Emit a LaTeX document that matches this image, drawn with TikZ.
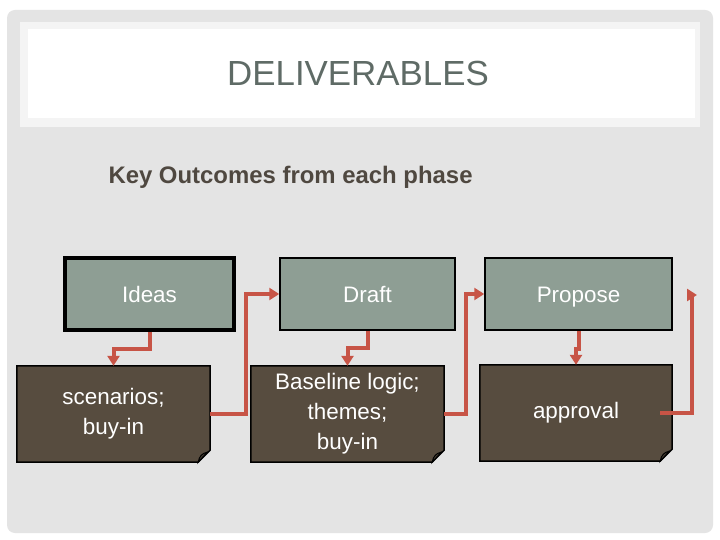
\documentclass[tikz,border=0pt]{standalone}
\usepackage{fontspec}
\setmainfont{Liberation Sans}
\usetikzlibrary{arrows.meta, calc}

\definecolor{slidegrey}{HTML}{E4E4E4}
\definecolor{bandgrey}{HTML}{F4F4F4}
\definecolor{titlegrey}{HTML}{5F6B66}
\definecolor{subbrown}{HTML}{4F4840}
\definecolor{phasegreen}{HTML}{8E9E94}
\definecolor{outbrown}{HTML}{574C3F}
\definecolor{linkred}{HTML}{C75446}

\pgfdeclarelayer{background}
\pgfsetlayers{background,main}

\begin{document}
\begin{tikzpicture}[
    x=1bp, y=-1bp,
    >=Triangle,
    phase/.style={draw=black, line width=1.5bp, fill=phasegreen, text=white,
        inner sep=0pt, text height=17bp, text depth=0pt,
        font=\fontsize{22.5}{30}\selectfont},
    outcome/.style={inner sep=0pt, text=white,
        font=\fontsize{22.5}{30}\selectfont, align=center},
    link/.style={linkred, line width=4bp},
    arrowlink/.style={link, -{Triangle[length=10bp, width=12bp]}},
]

% =============================================================================
% Slide background and title
% =============================================================================
\useasboundingbox (0,0) rectangle (720,540);
\begin{pgfonlayer}{background}
    \fill[white] (0,0) rectangle (720,540);
    \fill[slidegrey, rounded corners=8bp] (7,10) rectangle (713,533);
    \fill[bandgrey] (20,22) rectangle (700,127);
    \fill[white] (28,29) rectangle (695,118);
\end{pgfonlayer}

\node[text=titlegrey, font=\fontsize{35}{40}\selectfont] (title) at (358,73) {DELIVERABLES};
\node[anchor=west, text=subbrown, font=\bfseries\fontsize{24}{28}\selectfont]
    (sub) at (105,177) {Key Outcomes from each phase};

% =============================================================================
% Phases (top row)
% =============================================================================
\node[phase, line width=3.5bp, minimum width=169bp, minimum height=72bp]
    (ideas) at (149.5,294) {Ideas};
\node[phase, minimum width=175bp, minimum height=72bp]
    (draft) at (367.5,294) {Draft};
\node[phase, minimum width=187bp, minimum height=72bp]
    (propose) at (578.5,294) {Propose};

% =============================================================================
% Outcomes (bottom row, folded corner)
% =============================================================================
\node[outcome, minimum width=193bp, minimum height=96bp]
    (scen) at (113.5,414) {scenarios;\\buy-in};
\node[outcome, minimum width=193bp, minimum height=96bp]
    (base) at (347.5,414) {Baseline logic;\\themes;\\buy-in};
\node[outcome, minimum width=192bp, minimum height=96bp]
    (approval) at (576,413) {approval};

\begin{pgfonlayer}{background}
\foreach \n in {scen, base, approval} {
    % --- card with the corner cut off ---
    \filldraw[fill=outbrown, draw=black, line width=1.5bp]
        (\n.north west) -- (\n.north east)
        -- ($(\n.south east)+(0,12bp)$) -- ($(\n.south east)+(-12bp,0)$)
        -- (\n.south west) -- cycle;
    % --- fold ---
    \filldraw[fill=outbrown!80!black, draw=black, line width=1bp]
        ($(\n.south east)+(-12bp,0)$)
        .. controls ($(\n.south east)+(-11bp,6bp)$) and ($(\n.south east)+(-8bp,9bp)$)
        .. ($(\n.south east)+(-3bp,10bp)$) -- cycle;
}
\end{pgfonlayer}

% =============================================================================
% Connectors
% =============================================================================
\coordinate (out) at (697,295);

\draw[arrowlink] (ideas.south) -- ++(0,17) -| (scen.north);
\draw[arrowlink] (scen.east) -- ++(36,0) |- (draft.west);
\draw[arrowlink] (draft.south) -- ++(0,17) -| (base.north);
\draw[arrowlink] (base.east) -- ++(22,0) |- (propose.west);
\draw[arrowlink] (propose.south) -- ++(0,18) -| (approval.north);
\draw[arrowlink] ([xshift=-12bp]approval.east) -- ++(32,0) |- (out);

\end{tikzpicture}
\end{document}
